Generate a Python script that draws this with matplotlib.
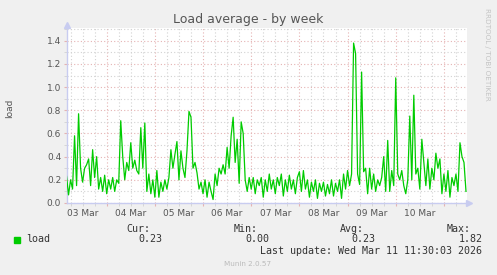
"""
Munin 'Load average - by week' graph, redrawn with matplotlib
"""
import numpy as np
import pandas as pd
import matplotlib
matplotlib.use('Agg')
import matplotlib.pyplot as plt
import matplotlib.dates as mdates
from matplotlib.ticker import MultipleLocator, FuncFormatter

# hourly samples, 03 Mar 04:00 -> 11 Mar 11:00
start = '2026-03-03 04:00'
load = [
    0.23, 0.07, 0.20, 0.12, 0.58, 0.15, 0.77, 0.30, 0.18, 0.30,
    0.33, 0.38, 0.15, 0.46, 0.22, 0.40, 0.12, 0.22, 0.10, 0.24,
    0.08, 0.20, 0.12, 0.22, 0.10, 0.20, 0.17, 0.71, 0.40, 0.20,
    0.35, 0.28, 0.52, 0.30, 0.37, 0.28, 0.25, 0.65, 0.30, 0.69,
    0.10, 0.25, 0.08, 0.20, 0.05, 0.28, 0.05, 0.18, 0.10, 0.20,
    0.12, 0.22, 0.46, 0.30, 0.42, 0.53, 0.20, 0.45, 0.30, 0.22,
    0.45, 0.79, 0.74, 0.30, 0.35, 0.26, 0.12, 0.18, 0.08, 0.20,
    0.05, 0.18, 0.10, 0.03, 0.25, 0.15, 0.30, 0.25, 0.33, 0.25,
    0.48, 0.30, 0.58, 0.74, 0.35, 0.55, 0.17, 0.70, 0.60, 0.20,
    0.10, 0.22, 0.12, 0.22, 0.08, 0.20, 0.15, 0.22, 0.05, 0.20,
    0.10, 0.25, 0.12, 0.20, 0.08, 0.22, 0.15, 0.25, 0.06, 0.20,
    0.10, 0.24, 0.12, 0.20, 0.08, 0.22, 0.27, 0.10, 0.28, 0.12,
    0.20, 0.05, 0.18, 0.10, 0.20, 0.04, 0.17, 0.10, 0.18, 0.06,
    0.16, 0.08, 0.20, 0.06, 0.17, 0.10, 0.20, 0.04, 0.25, 0.12,
    0.28, 0.15, 0.25, 1.38, 1.29, 0.25, 0.16, 1.13, 0.27, 0.30,
    0.08, 0.30, 0.12, 0.25, 0.10, 0.20, 0.15, 0.22, 0.40, 0.10,
    0.54, 0.10, 0.28, 0.15, 1.08, 0.25, 0.20, 0.28, 0.15, 0.08,
    0.20, 0.75, 0.20, 0.93, 0.25, 0.30, 0.12, 0.55, 0.35, 0.15,
    0.38, 0.12, 0.30, 0.20, 0.43, 0.30, 0.38, 0.08, 0.25, 0.10,
    0.28, 0.05, 0.22, 0.15, 0.25, 0.10, 0.52, 0.40, 0.35, 0.10,
]
times = pd.date_range(start, periods=len(load), freq='h')

x_start = pd.Timestamp('2026-03-03 04:05')
x_end = pd.Timestamp('2026-03-11 11:30')

stats = {'Cur:': '0.23', 'Min:': '0.00', 'Avg:': '0.23', 'Max:': '1.82'}

BG = '#f0f0f0'
GREEN = '#00cc00'
MAJ = '#e5b3b3'
MIN = '#d2d2d2'
AXIS = '#c8ccf0'
TXT = '#555555'

plt.rcParams['font.family'] = ['DejaVu Sans']

fig = plt.figure(figsize=(4.97, 2.75), dpi=100, facecolor=BG)
ax = fig.add_axes([66.7 / 497, 72 / 275, 400.3 / 497, 175 / 275])
ax.set_facecolor('white')

ax.plot(times, load, color=GREEN, linewidth=0.9, zorder=3)

ax.set_xlim(x_start, x_end)
ax.set_ylim(0, 1.51)

# x grid: midnights (major, red), every 6 h (minor, grey); labels at noon
ax.xaxis.set_major_locator(mdates.DayLocator())
ax.xaxis.set_major_formatter(FuncFormatter(lambda x, _: ''))
ax.xaxis.set_minor_locator(mdates.HourLocator(byhour=[6, 12, 18]))
ax.xaxis.set_minor_formatter(FuncFormatter(
    lambda x, _: mdates.num2date(x).strftime('%d %b')
    if mdates.num2date(x).hour == 12 else ''))

ax.yaxis.set_major_locator(MultipleLocator(0.2))
ax.yaxis.set_minor_locator(MultipleLocator(0.1))
ax.yaxis.set_major_formatter(FuncFormatter(lambda y, _: f'{y:.1f}'))

ax.grid(True, which='major', color=MAJ, linestyle=(0, (1, 2)), linewidth=0.8)
ax.grid(True, which='minor', color=MIN, linestyle=(0, (1, 2)), linewidth=0.8)
ax.set_axisbelow(True)

ax.tick_params(which='major', length=2, color=MAJ, labelsize=6.5,
               labelcolor=TXT, pad=2)
ax.tick_params(which='minor', length=2, color=MIN, labelsize=6.5,
               labelcolor=TXT, pad=2)
ax.tick_params(axis='y', which='minor', labelleft=False)

ax.spines[['top', 'right']].set_visible(False)
ax.spines[['left', 'bottom']].set_color(AXIS)
ax.spines[['left', 'bottom']].set_linewidth(1.0)

# axis arrows
ax.plot(0, 1.02, marker='^', markersize=4, color=AXIS, transform=ax.transAxes,
        clip_on=False)
ax.plot(1.005, 0, marker='>', markersize=4, color=AXIS, transform=ax.transAxes,
        clip_on=False)

fig.text(0.5, 1 - 19 / 275, 'Load average - by week', ha='center', va='center',
         fontsize=9, color=TXT)
fig.text(10 / 497, 1 - 108 / 275, 'load', rotation=90, ha='center',
         va='center', fontsize=6.5, color=TXT)
fig.text(487 / 497, 1 - 54 / 275, 'RRDTOOL / TOBI OETIKER', rotation=270,
         ha='center', va='center', fontsize=5.2, color='#c4c4c4')

# legend block
mono = 'DejaVu Sans Mono'
fig.patches.append(plt.Rectangle((14 / 497, 1 - 242.5 / 275), 6 / 497, 6 / 275,
                                 transform=fig.transFigure, color=GREEN))
fig.text(26.5 / 497, 1 - 239.5 / 275, 'load', family=mono, fontsize=7.2,
         color='#333333', va='center')
for (lab, val), right in zip(stats.items(), [162.7, 269.3, 375.7, 482.3]):
    fig.text((right - 12) / 497, 1 - 228.5 / 275, lab, family=mono,
             fontsize=7.2, color='#333333', va='center', ha='right')
    fig.text(right / 497, 1 - 239.5 / 275, val, family=mono, fontsize=7.2,
             color='#333333', va='center', ha='right')
fig.text(482.3 / 497, 1 - 251 / 275, 'Last update: Wed Mar 11 11:30:03 2026',
         family=mono, fontsize=7.2, color='#333333', va='center', ha='right')
fig.text(248 / 497, 1 - 264.5 / 275, 'Munin 2.0.57', fontsize=5.2,
         color='#bbbbbb', ha='center', va='center')

fig.savefig('out.png', dpi=100, facecolor=BG)
